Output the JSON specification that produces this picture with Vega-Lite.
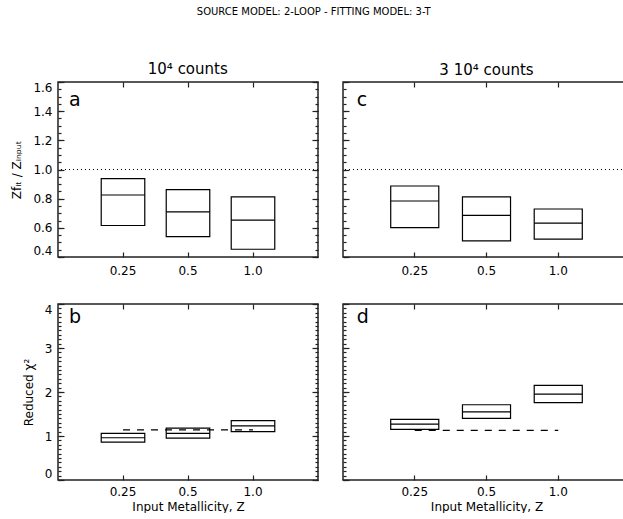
{
  "$schema": "https://vega.github.io/schema/vega-lite/v6.json",
  "autosize": {"type": "pad"},
  "padding": {"left": 10, "top": 7, "right": 0, "bottom": 0},
  "background": "white",
  "title": {"text": "SOURCE MODEL: 2-LOOP - FITTING MODEL: 3-T", "fontSize": 10, "fontWeight": "normal", "font": "DejaVu Sans", "color": "black", "offset": 45, "anchor": "middle", "frame": "bounds", "dx": -7},
  "datasets": {
    "a": [
      {"Z": "0.25", "lo": 0.616, "med": 0.825, "hi": 0.938},
      {"Z": "0.5", "lo": 0.540, "med": 0.710, "hi": 0.862},
      {"Z": "1.0", "lo": 0.453, "med": 0.653, "hi": 0.812}
    ],
    "c": [
      {"Z": "0.25", "lo": 0.602, "med": 0.784, "hi": 0.887},
      {"Z": "0.5", "lo": 0.510, "med": 0.685, "hi": 0.812},
      {"Z": "1.0", "lo": 0.522, "med": 0.632, "hi": 0.729}
    ],
    "b": [
      {"Z": "0.25", "lo": 0.86, "med": 0.96, "hi": 1.06},
      {"Z": "0.5", "lo": 0.95, "med": 1.06, "hi": 1.18},
      {"Z": "1.0", "lo": 1.10, "med": 1.23, "hi": 1.35}
    ],
    "d": [
      {"Z": "0.25", "lo": 1.15, "med": 1.27, "hi": 1.38},
      {"Z": "0.5", "lo": 1.40, "med": 1.55, "hi": 1.71},
      {"Z": "1.0", "lo": 1.76, "med": 1.95, "hi": 2.15}
    ],
    "bref": [{"Z": "0.25", "chi": 1.14}, {"Z": "1.0", "chi": 1.14}],
    "dref": [{"Z": "0.25", "chi": 1.13}, {"Z": "1.0", "chi": 1.13}],
    "unity": [{"ratio": 1.0}]
  },
  "spacing": 21,
  "hconcat": [
    {
      "title": {"text": "10⁴ counts", "fontSize": 15, "fontWeight": "normal", "font": "DejaVu Sans", "color": "black", "anchor": "middle", "frame": "bounds", "offset": -12, "baseline": "bottom", "dx": 23},
      "bounds": "flush",
      "spacing": 47,
      "vconcat": [
        {
          "width": 260, "height": 175,
          "data": {"name": "a"},
          "resolve": {"axis": {"x": "independent", "y": "independent"}},
          "layer": [
            {
              "mark": {"type": "bar", "fillOpacity": 0, "stroke": "black", "strokeWidth": 1.2},
              "encoding": {
                "x": {"field": "Z", "type": "ordinal", "sort": ["0.25", "0.5", "1.0"], "scale": {"paddingInner": 0.33, "paddingOuter": 0.665},
                  "axis": {"orient": "bottom", "title": null, "labelAngle": 0, "tickSize": -5, "labelPadding": 13, "domain": false}},
                "y": {"field": "lo", "type": "quantitative", "scale": {"domain": [0.4, 1.6], "nice": false, "zero": false},
                  "axis": {"orient": "left", "values": [0.4, 0.6, 0.8, 1.0, 1.2, 1.4, 1.6], "format": ".1f", "tickSize": -6, "labelPadding": 12, "labelFlush": true, "domain": false, "title": "Zfᵢₜ / Zᵢₙₚᵤₜ", "titlePadding": 9}},
                "y2": {"field": "hi"}
              }
            },
            {
              "mark": {"type": "bar", "fillOpacity": 0, "stroke": "black", "strokeWidth": 1.2},
              "encoding": {
                "x": {"field": "Z", "type": "ordinal", "sort": ["0.25", "0.5", "1.0"], "axis": {"orient": "top", "title": null, "labels": false, "tickSize": -5, "domain": false}},
                "y": {"field": "med", "type": "quantitative", "axis": {"orient": "right", "values": [0.4, 0.6, 0.8, 1.0, 1.2, 1.4, 1.6], "tickSize": -6, "labels": false, "domain": false, "title": null}},
                "y2": {"field": "med"}
              }
            },
            {
              "data": {"name": "unity"},
              "mark": {"type": "rule", "color": "black", "strokeWidth": 1.2, "strokeDash": [1, 3]},
              "encoding": {
                "y": {"field": "ratio", "type": "quantitative", "axis": {"orient": "left", "values": [0.4, 0.45, 0.5, 0.55, 0.6, 0.65, 0.7, 0.75, 0.8, 0.85, 0.9, 0.95, 1.0, 1.05, 1.1, 1.15, 1.2, 1.25, 1.3, 1.35, 1.4, 1.45, 1.5, 1.55, 1.6], "tickSize": -3, "labels": false, "domain": false, "title": null}}
              }
            },
            {
              "mark": {"type": "bar", "opacity": 0},
              "encoding": {
                "x": {"field": "Z", "type": "ordinal", "sort": ["0.25", "0.5", "1.0"], "axis": null},
                "y": {"field": "lo", "type": "quantitative", "axis": {"orient": "right", "values": [0.4, 0.45, 0.5, 0.55, 0.6, 0.65, 0.7, 0.75, 0.8, 0.85, 0.9, 0.95, 1.0, 1.05, 1.1, 1.15, 1.2, 1.25, 1.3, 1.35, 1.4, 1.45, 1.5, 1.55, 1.6], "tickSize": -3, "labels": false, "domain": false, "title": null}},
                "y2": {"field": "hi"}
              }
            },
            {
              "data": {"values": [{"panel": "a"}]},
              "mark": {"type": "text", "align": "left", "baseline": "alphabetic", "fontSize": 19, "font": "DejaVu Sans", "color": "black", "dx": -54},
              "encoding": {
                "text": {"field": "panel"},
                "x": {"datum": "0.25", "type": "ordinal", "axis": null},
                "y": {"datum": 1.434, "type": "quantitative", "axis": null}
              }
            }
          ]
        },
        {
          "width": 260, "height": 176,
          "data": {"name": "b"},
          "resolve": {"axis": {"x": "independent", "y": "independent"}},
          "layer": [
            {
              "mark": {"type": "bar", "fillOpacity": 0, "stroke": "black", "strokeWidth": 1.2},
              "encoding": {
                "x": {"field": "Z", "type": "ordinal", "sort": ["0.25", "0.5", "1.0"], "scale": {"paddingInner": 0.33, "paddingOuter": 0.665},
                  "axis": {"orient": "bottom", "title": "Input Metallicity, Z", "titlePadding": 4, "labelAngle": 0, "tickSize": -5, "labelPadding": 11, "domain": false}},
                "y": {"field": "lo", "type": "quantitative", "scale": {"domain": [0, 4], "nice": false, "zero": false},
                  "axis": {"orient": "left", "values": [0, 1, 2, 3, 4], "format": "d", "tickSize": -6, "labelPadding": 12, "labelFlush": true, "domain": false, "title": "Reduced χ²", "titlePadding": 9}},
                "y2": {"field": "hi"}
              }
            },
            {
              "mark": {"type": "bar", "fillOpacity": 0, "stroke": "black", "strokeWidth": 1.2},
              "encoding": {
                "x": {"field": "Z", "type": "ordinal", "sort": ["0.25", "0.5", "1.0"], "axis": {"orient": "top", "title": null, "labels": false, "tickSize": -5, "domain": false}},
                "y": {"field": "med", "type": "quantitative", "axis": {"orient": "right", "values": [0, 1, 2, 3, 4], "tickSize": -6, "labels": false, "domain": false, "title": null}},
                "y2": {"field": "med"}
              }
            },
            {
              "data": {"name": "bref"},
              "mark": {"type": "line", "color": "black", "strokeWidth": 1.2, "strokeDash": [7, 7]},
              "encoding": {
                "x": {"field": "Z", "type": "ordinal", "sort": ["0.25", "0.5", "1.0"], "axis": null},
                "y": {"field": "chi", "type": "quantitative", "axis": {"orient": "left", "values": [0, 0.1, 0.2, 0.3, 0.4, 0.5, 0.6, 0.7, 0.8, 0.9, 1, 1.1, 1.2, 1.3, 1.4, 1.5, 1.6, 1.7, 1.8, 1.9, 2, 2.1, 2.2, 2.3, 2.4, 2.5, 2.6, 2.7, 2.8, 2.9, 3, 3.1, 3.2, 3.3, 3.4, 3.5, 3.6, 3.7, 3.8, 3.9, 4], "tickSize": -3, "labels": false, "domain": false, "title": null}}
              }
            },
            {
              "mark": {"type": "bar", "opacity": 0},
              "encoding": {
                "x": {"field": "Z", "type": "ordinal", "sort": ["0.25", "0.5", "1.0"], "axis": null},
                "y": {"field": "lo", "type": "quantitative", "axis": {"orient": "right", "values": [0, 0.1, 0.2, 0.3, 0.4, 0.5, 0.6, 0.7, 0.8, 0.9, 1, 1.1, 1.2, 1.3, 1.4, 1.5, 1.6, 1.7, 1.8, 1.9, 2, 2.1, 2.2, 2.3, 2.4, 2.5, 2.6, 2.7, 2.8, 2.9, 3, 3.1, 3.2, 3.3, 3.4, 3.5, 3.6, 3.7, 3.8, 3.9, 4], "tickSize": -3, "labels": false, "domain": false, "title": null}},
                "y2": {"field": "hi"}
              }
            },
            {
              "data": {"values": [{"panel": "b"}]},
              "mark": {"type": "text", "align": "left", "baseline": "alphabetic", "fontSize": 19, "font": "DejaVu Sans", "color": "black", "dx": -54},
              "encoding": {
                "text": {"field": "panel"},
                "x": {"datum": "0.25", "type": "ordinal", "axis": null},
                "y": {"datum": 3.57, "type": "quantitative", "axis": null}
              }
            }
          ]
        }
      ]
    },
    {
      "title": {"text": "3 10⁴ counts", "fontSize": 15, "fontWeight": "normal", "font": "DejaVu Sans", "color": "black", "anchor": "middle", "frame": "bounds", "offset": -12, "baseline": "bottom"},
      "bounds": "flush",
      "spacing": 47,
      "vconcat": [
        {
          "width": 287, "height": 175,
          "data": {"name": "c"},
          "resolve": {"axis": {"x": "independent", "y": "independent"}},
          "layer": [
            {
              "mark": {"type": "bar", "fillOpacity": 0, "stroke": "black", "strokeWidth": 1.2},
              "encoding": {
                "x": {"field": "Z", "type": "ordinal", "sort": ["0.25", "0.5", "1.0"], "scale": {"paddingInner": 0.33, "paddingOuter": 0.665},
                  "axis": {"orient": "bottom", "title": null, "labelAngle": 0, "tickSize": -5, "labelPadding": 13, "domain": false}},
                "y": {"field": "lo", "type": "quantitative", "scale": {"domain": [0.4, 1.6], "nice": false, "zero": false},
                  "axis": {"orient": "left", "values": [0.4, 0.6, 0.8, 1.0, 1.2, 1.4, 1.6], "tickSize": -6, "labels": false, "domain": false, "title": null}},
                "y2": {"field": "hi"}
              }
            },
            {
              "mark": {"type": "bar", "fillOpacity": 0, "stroke": "black", "strokeWidth": 1.2},
              "encoding": {
                "x": {"field": "Z", "type": "ordinal", "sort": ["0.25", "0.5", "1.0"], "axis": {"orient": "top", "title": null, "labels": false, "tickSize": -5, "domain": false}},
                "y": {"field": "med", "type": "quantitative", "axis": {"orient": "right", "values": [0.4, 0.6, 0.8, 1.0, 1.2, 1.4, 1.6], "tickSize": -6, "labels": false, "domain": false, "title": null}},
                "y2": {"field": "med"}
              }
            },
            {
              "data": {"name": "unity"},
              "mark": {"type": "rule", "color": "black", "strokeWidth": 1.2, "strokeDash": [1, 3]},
              "encoding": {
                "y": {"field": "ratio", "type": "quantitative", "axis": {"orient": "left", "values": [0.4, 0.45, 0.5, 0.55, 0.6, 0.65, 0.7, 0.75, 0.8, 0.85, 0.9, 0.95, 1.0, 1.05, 1.1, 1.15, 1.2, 1.25, 1.3, 1.35, 1.4, 1.45, 1.5, 1.55, 1.6], "tickSize": -3, "labels": false, "domain": false, "title": null}}
              }
            },
            {
              "mark": {"type": "bar", "opacity": 0},
              "encoding": {
                "x": {"field": "Z", "type": "ordinal", "sort": ["0.25", "0.5", "1.0"], "axis": null},
                "y": {"field": "lo", "type": "quantitative", "axis": {"orient": "right", "values": [0.4, 0.45, 0.5, 0.55, 0.6, 0.65, 0.7, 0.75, 0.8, 0.85, 0.9, 0.95, 1.0, 1.05, 1.1, 1.15, 1.2, 1.25, 1.3, 1.35, 1.4, 1.45, 1.5, 1.55, 1.6], "tickSize": -3, "labels": false, "domain": false, "title": null}},
                "y2": {"field": "hi"}
              }
            },
            {
              "data": {"values": [{"panel": "c"}]},
              "mark": {"type": "text", "align": "left", "baseline": "alphabetic", "fontSize": 19, "font": "DejaVu Sans", "color": "black", "dx": -58},
              "encoding": {
                "text": {"field": "panel"},
                "x": {"datum": "0.25", "type": "ordinal", "axis": null},
                "y": {"datum": 1.434, "type": "quantitative", "axis": null}
              }
            }
          ]
        },
        {
          "width": 287, "height": 176,
          "data": {"name": "d"},
          "resolve": {"axis": {"x": "independent", "y": "independent"}},
          "layer": [
            {
              "mark": {"type": "bar", "fillOpacity": 0, "stroke": "black", "strokeWidth": 1.2},
              "encoding": {
                "x": {"field": "Z", "type": "ordinal", "sort": ["0.25", "0.5", "1.0"], "scale": {"paddingInner": 0.33, "paddingOuter": 0.665},
                  "axis": {"orient": "bottom", "title": "Input Metallicity, Z", "titlePadding": 4, "labelAngle": 0, "tickSize": -5, "labelPadding": 11, "domain": false}},
                "y": {"field": "lo", "type": "quantitative", "scale": {"domain": [0, 4], "nice": false, "zero": false},
                  "axis": {"orient": "left", "values": [0, 1, 2, 3, 4], "tickSize": -6, "labels": false, "domain": false, "title": null}},
                "y2": {"field": "hi"}
              }
            },
            {
              "mark": {"type": "bar", "fillOpacity": 0, "stroke": "black", "strokeWidth": 1.2},
              "encoding": {
                "x": {"field": "Z", "type": "ordinal", "sort": ["0.25", "0.5", "1.0"], "axis": {"orient": "top", "title": null, "labels": false, "tickSize": -5, "domain": false}},
                "y": {"field": "med", "type": "quantitative", "axis": {"orient": "right", "values": [0, 1, 2, 3, 4], "tickSize": -6, "labels": false, "domain": false, "title": null}},
                "y2": {"field": "med"}
              }
            },
            {
              "data": {"name": "dref"},
              "mark": {"type": "line", "color": "black", "strokeWidth": 1.2, "strokeDash": [7, 7]},
              "encoding": {
                "x": {"field": "Z", "type": "ordinal", "sort": ["0.25", "0.5", "1.0"], "axis": null},
                "y": {"field": "chi", "type": "quantitative", "axis": {"orient": "left", "values": [0, 0.1, 0.2, 0.3, 0.4, 0.5, 0.6, 0.7, 0.8, 0.9, 1, 1.1, 1.2, 1.3, 1.4, 1.5, 1.6, 1.7, 1.8, 1.9, 2, 2.1, 2.2, 2.3, 2.4, 2.5, 2.6, 2.7, 2.8, 2.9, 3, 3.1, 3.2, 3.3, 3.4, 3.5, 3.6, 3.7, 3.8, 3.9, 4], "tickSize": -3, "labels": false, "domain": false, "title": null}}
              }
            },
            {
              "mark": {"type": "bar", "opacity": 0},
              "encoding": {
                "x": {"field": "Z", "type": "ordinal", "sort": ["0.25", "0.5", "1.0"], "axis": null},
                "y": {"field": "lo", "type": "quantitative", "axis": {"orient": "right", "values": [0, 0.1, 0.2, 0.3, 0.4, 0.5, 0.6, 0.7, 0.8, 0.9, 1, 1.1, 1.2, 1.3, 1.4, 1.5, 1.6, 1.7, 1.8, 1.9, 2, 2.1, 2.2, 2.3, 2.4, 2.5, 2.6, 2.7, 2.8, 2.9, 3, 3.1, 3.2, 3.3, 3.4, 3.5, 3.6, 3.7, 3.8, 3.9, 4], "tickSize": -3, "labels": false, "domain": false, "title": null}},
                "y2": {"field": "hi"}
              }
            },
            {
              "data": {"values": [{"panel": "d"}]},
              "mark": {"type": "text", "align": "left", "baseline": "alphabetic", "fontSize": 19, "font": "DejaVu Sans", "color": "black", "dx": -58},
              "encoding": {
                "text": {"field": "panel"},
                "x": {"datum": "0.25", "type": "ordinal", "axis": null},
                "y": {"datum": 3.57, "type": "quantitative", "axis": null}
              }
            }
          ]
        }
      ]
    }
  ],
  "config": {
    "font": "DejaVu Sans",
    "view": {"stroke": "#222222", "strokeWidth": 1.5},
    "axis": {
      "labelFont": "DejaVu Sans", "labelFontSize": 12, "labelColor": "black",
      "titleFont": "DejaVu Sans", "titleFontSize": 12, "titleFontWeight": "normal", "titleColor": "black",
      "tickColor": "#222222", "tickWidth": 1.2, "grid": false
    },
    "line": {"strokeCap": "butt"}
  }
}
